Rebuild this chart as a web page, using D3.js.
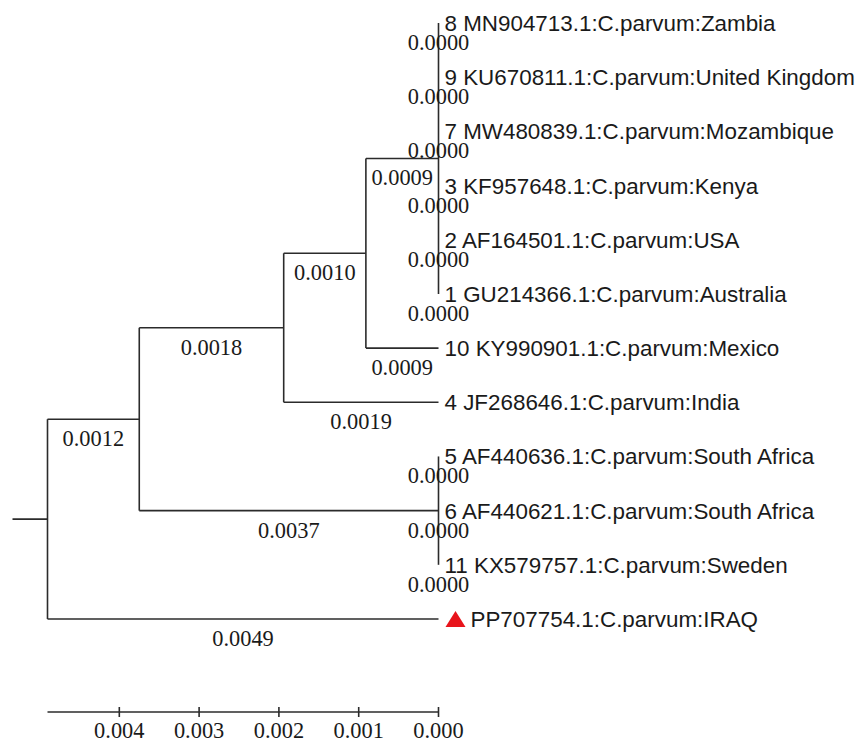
<!doctype html>
<html>
<head>
<meta charset="utf-8">
<title>C. parvum tree</title>
<script src="https://cdn.jsdelivr.net/npm/d3@7"></script>
<style>
  body { margin: 0; background: #fff; }
  .branch { fill: none; stroke: #2b2b2b; stroke-width: 1.6; }
  .leaf-label { font-family: "Liberation Sans", Arial, sans-serif; font-size: 22.4px; fill: #1a1a1a; }
  .len-label { font-family: "Liberation Serif", "Times New Roman", serif; font-size: 22.4px; fill: #1a1a1a; }
</style>
</head>
<body>
<div id="chart"></div>
<script>
// internal nodes: id, parent, height (distance to tips), label on branch leading to it
var nodeIds      = ["root", "A", "B", "D", "E", "C"];
var nodeParents  = [null, "root", "A", "B", "D", "A"];
var nodeHeights  = [0.0049, 0.00375, 0.00194, 0.00091, 0, 0];
var nodeLabels   = [null, "0.0012", "0.0018", "0.0010", "0.0009", "0.0037"];

// leaves, top to bottom
var leafNames = [
  "8 MN904713.1:C.parvum:Zambia",
  "9 KU670811.1:C.parvum:United Kingdom",
  "7 MW480839.1:C.parvum:Mozambique",
  "3 KF957648.1:C.parvum:Kenya",
  "2 AF164501.1:C.parvum:USA",
  "1 GU214366.1:C.parvum:Australia",
  "10 KY990901.1:C.parvum:Mexico",
  "4 JF268646.1:C.parvum:India",
  "5 AF440636.1:C.parvum:South Africa",
  "6 AF440621.1:C.parvum:South Africa",
  "11 KX579757.1:C.parvum:Sweden",
  "PP707754.1:C.parvum:IRAQ"
];
var leafParents = ["E", "E", "E", "E", "E", "E", "D", "B", "C", "C", "C", "root"];
var leafLabels  = ["0.0000", "0.0000", "0.0000", "0.0000", "0.0000", "0.0000",
                   "0.0009", "0.0019", "0.0000", "0.0000", "0.0000", "0.0049"];
var leafMarked  = [false, false, false, false, false, false, false, false, false, false, false, true];

var axisTicks = [0.004, 0.003, 0.002, 0.001, 0.000];

var width = 858, height = 743;

var svg = d3.select("#chart").append("svg")
    .attr("width", width)
    .attr("height", height);

var x = d3.scaleLinear().domain([0.0049, 0]).range([47.5, 438.5]);
var y = d3.scaleLinear().domain([0, leafNames.length - 1]).range([23, 619]);

// build table for stratify
var rows = [];
nodeIds.forEach(function(id, i) {
  rows.push({ id: id, parent: nodeParents[i], h: nodeHeights[i], label: nodeLabels[i], leaf: false });
});
leafNames.forEach(function(name, i) {
  rows.push({ id: "leaf" + i, parent: leafParents[i], h: 0, label: leafLabels[i],
              leaf: true, index: i, name: name, marked: leafMarked[i] });
});

var root = d3.stratify()
    .id(function(d) { return d.id; })
    .parentId(function(d) { return d.parent; })(rows);

// positions
root.eachAfter(function(n) {
  n.px = x(n.data.h);
  if (n.data.leaf) {
    n.py = y(n.data.index);
  } else {
    var ys = n.children.map(function(c) { return c.py; });
    n.py = (d3.min(ys) + d3.max(ys)) / 2;
  }
});

var g = svg.append("g");

// vertical connectors
g.selectAll(".vert")
  .data(root.descendants().filter(function(n) { return n.children; }))
  .enter().append("line")
    .attr("class", "branch")
    .attr("x1", function(n) { return n.px; })
    .attr("x2", function(n) { return n.px; })
    .attr("y1", function(n) { return d3.min(n.children, function(c) { return c.py; }); })
    .attr("y2", function(n) { return d3.max(n.children, function(c) { return c.py; }); });

// horizontal branches
g.selectAll(".horiz")
  .data(root.descendants().filter(function(n) { return n.parent; }))
  .enter().append("line")
    .attr("class", "branch")
    .attr("x1", function(n) { return n.parent.px; })
    .attr("x2", function(n) { return n.px; })
    .attr("y1", function(n) { return n.py; })
    .attr("y2", function(n) { return n.py; });

// root stub
g.append("line")
  .attr("class", "branch")
  .attr("x1", root.px - 35).attr("x2", root.px)
  .attr("y1", root.py).attr("y2", root.py);

// branch length labels
g.selectAll(".len-label")
  .data(root.descendants().filter(function(n) { return n.parent; }))
  .enter().append("text")
    .attr("class", "len-label")
    .attr("text-anchor", "middle")
    .attr("x", function(n) { return (n.parent.px + n.px) / 2; })
    .attr("y", function(n) { return n.py + 27; })
    .text(function(n) { return n.data.label; });

// leaves
var leaves = root.leaves();

g.selectAll(".marker")
  .data(leaves.filter(function(n) { return n.data.marked; }))
  .enter().append("path")
    .attr("fill", "#e8141b")
    .attr("d", function(n) {
      var x0 = n.px + 7, yy = n.py;
      return "M" + x0 + "," + (yy + 8) + "L" + (x0 + 20) + "," + (yy + 8) + "L" + (x0 + 10) + "," + (yy - 8) + "Z";
    });

g.selectAll(".leaf-label")
  .data(leaves)
  .enter().append("text")
    .attr("class", "leaf-label")
    .attr("x", function(n) { return n.px + (n.data.marked ? 32 : 6); })
    .attr("y", function(n) { return n.py + 8; })
    .text(function(n) { return n.data.name; });

// scale axis
var axisY = 712;
var ax = svg.append("g");
ax.append("line")
  .attr("class", "branch")
  .attr("x1", x(0.0049)).attr("x2", x(0))
  .attr("y1", axisY).attr("y2", axisY);
ax.selectAll(".tick")
  .data(axisTicks)
  .enter().append("line")
    .attr("class", "branch")
    .attr("x1", function(d) { return x(d); })
    .attr("x2", function(d) { return x(d); })
    .attr("y1", axisY - 5).attr("y2", axisY + 5);
ax.selectAll(".tick-label")
  .data(axisTicks)
  .enter().append("text")
    .attr("class", "len-label")
    .attr("text-anchor", "middle")
    .attr("x", function(d) { return x(d); })
    .attr("y", axisY + 26)
    .text(function(d) { return d3.format(".3f")(d); });
</script>
</body>
</html>
